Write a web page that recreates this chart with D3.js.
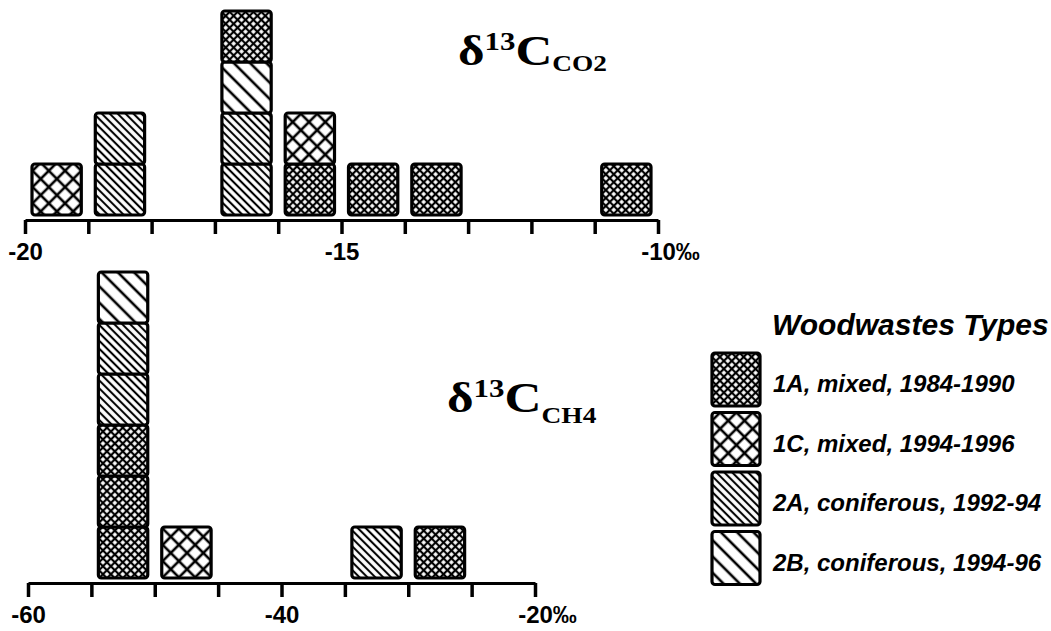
<!DOCTYPE html>
<html>
<head>
<meta charset="utf-8">
<script src="https://cdn.jsdelivr.net/npm/d3@7"></script>
<style>
  body { margin: 0; background: #fff; }
  svg { display: block; }
</style>
</head>
<body>
<div id="chart"></div>
<script>
  // woodwaste types (legend order)
  var typeCodes = ['1A', '1C', '2A', '2B'];
  var typeLabels = ['1A, mixed, 1984-1990', '1C, mixed, 1994-1996',
                    '2A, coniferous, 1992-94', '2B, coniferous, 1994-96'];

  // d13C CO2 samples: lower edge of the 1 permil bin, and type (stacked bottom to top)
  var co2Bins  = [-20, -19, -19, -17, -17, -17, -17, -16, -16, -15, -14, -11];
  var co2Types = ['1C', '2A', '2A', '2A', '2A', '2B', '1A', '1A', '1C', '1A', '1A', '1A'];
  var co2Ticks  = [-20, -19, -18, -17, -16, -15, -14, -13, -12, -11, -10];
  var co2Labels = [-20, -15, -10];

  // d13C CH4 samples: lower edge of the 5 permil bin
  var ch4Bins  = [-55, -55, -55, -55, -55, -55, -50, -35, -30];
  var ch4Types = ['1A', '1A', '1A', '2A', '2A', '2B', '1C', '2A', '1A'];
  var ch4Ticks  = [-60, -55, -50, -45, -40, -35, -30, -25, -20];
  var ch4Labels = [-60, -40, -20];

  var width = 1051, height = 631;
  var svg = d3.select('#chart').append('svg')
    .attr('width', width)
    .attr('height', height);

  var defs = svg.append('defs');

  function addPattern(id, size, stroke, cross) {
    var p = defs.append('pattern')
      .attr('id', id)
      .attr('patternUnits', 'userSpaceOnUse')
      .attr('width', size)
      .attr('height', size)
      .attr('patternTransform', 'rotate(45)');
    p.append('rect').attr('width', size).attr('height', size).attr('fill', '#fff');
    p.append('line')
      .attr('x1', 0).attr('x2', size).attr('y1', size / 2).attr('y2', size / 2)
      .attr('stroke', '#000').attr('stroke-width', stroke);
    if (cross) {
      p.append('line')
        .attr('y1', 0).attr('y2', size).attr('x1', size / 2).attr('x2', size / 2)
        .attr('stroke', '#000').attr('stroke-width', stroke);
    }
  }
  addPattern('p1A', 5.6, 2.2, true);
  addPattern('p1C', 11.5, 2.6, true);
  addPattern('p2A', 5.6, 2.1, false);
  addPattern('p2B', 11.5, 2.6, false);

  function fillFor(code) { return 'url(#p' + code + ')'; }

  function drawPanel(opts) {
    var x = d3.scaleLinear().domain(opts.domain).range(opts.range);
    var y = d3.scaleLinear().domain([0, 1]).range([opts.base, opts.base - 51]);

    // stack level of each sample within its bin
    var seen = {};
    var samples = opts.bins.map(function(b, i) {
      var level = seen[b] || 0;
      seen[b] = level + 1;
      return { bin: b, type: opts.types[i], level: level };
    });

    var g = svg.append('g');
    var inset = 7;
    g.selectAll('rect.block').data(samples).enter()
      .append('rect')
      .attr('class', 'block')
      .attr('x', function(d) { return x(d.bin) + inset; })
      .attr('width', function(d) { return x(d.bin + opts.step) - x(d.bin) - 2 * inset; })
      .attr('y', function(d) { return y(d.level + 1); })
      .attr('height', function(d) { return y(d.level) - y(d.level + 1); })
      .attr('rx', 3)
      .attr('fill', function(d) { return fillFor(d.type); })
      .attr('stroke', '#000')
      .attr('stroke-width', 3.2);

    var axis = d3.axisBottom(x)
      .tickValues(opts.ticks)
      .tickSize(14)
      .tickSizeOuter(0)
      .tickPadding(9)
      .tickFormat(function(d) { return opts.labels.indexOf(d) >= 0 ? String(d) : ''; });

    var ax = svg.append('g')
      .attr('transform', 'translate(0,' + opts.axisY + ')')
      .call(axis);
    ax.select('.domain').attr('stroke-width', 3);
    ax.selectAll('.tick line').attr('stroke-width', 3.5);
    ax.selectAll('.tick text')
      .attr('fill', '#000')
      .style('font-family', '"Liberation Sans", Arial, sans-serif')
      .style('font-weight', 'bold')
      .style('font-size', '24px');

    // last label carries the permil unit, number stays centred on the tick
    var last = ax.selectAll('.tick text').filter(function(d) { return d === opts.labels[opts.labels.length - 1]; });
    var w = last.node().getComputedTextLength();
    last.attr('text-anchor', 'start').attr('x', -w / 2);
    last.append('tspan').text('\u2030');

    // title
    var t = svg.append('text')
      .attr('transform', 'translate(' + opts.titleX + ',' + opts.titleY + ')')
      .style('font-family', '"Liberation Serif", "Times New Roman", serif')
      .style('font-weight', 'bold')
      .attr('fill', '#000');
    t.append('tspan').text('\u03b4').style('font-size', '43px');
    t.append('tspan').text('13').style('font-size', '26px').attr('dy', -15);
    t.append('tspan').text('C').style('font-size', '43px').attr('dy', 15);
    t.append('tspan').text(opts.sub).style('font-size', '23px').attr('dy', opts.subDy);
    var tw = t.node().getBBox().width;
    var sx = opts.titleW / tw;
    t.attr('transform', 'translate(' + opts.titleX + ',' + opts.titleY + ') scale(' + sx + ',1)');
  }

  drawPanel({
    domain: [-20, -10], range: [25, 658], step: 1,
    bins: co2Bins, types: co2Types, ticks: co2Ticks, labels: co2Labels,
    base: 215, axisY: 220,
    sub: 'CO2', subDy: 6, titleX: 458, titleY: 65, titleW: 149
  });

  drawPanel({
    domain: [-60, -20], range: [28, 535], step: 5,
    bins: ch4Bins, types: ch4Types, ticks: ch4Ticks, labels: ch4Labels,
    base: 578, axisY: 583,
    sub: 'CH4', subDy: 11, titleX: 447, titleY: 412, titleW: 150
  });

  // legend
  var legend = svg.append('g');
  legend.append('text')
    .attr('x', 772)
    .attr('y', 335)
    .text('Woodwastes Types')
    .style('font-family', '"Liberation Sans", Arial, sans-serif')
    .style('font-weight', 'bold')
    .style('font-style', 'italic')
    .style('font-size', '30px');

  var items = legend.selectAll('g.item').data(typeCodes).enter()
    .append('g')
    .attr('class', 'item')
    .attr('transform', function(d, i) { return 'translate(712,' + (353 + i * 59.5) + ')'; });
  items.append('rect')
    .attr('width', 48)
    .attr('height', 53)
    .attr('rx', 3)
    .attr('fill', function(d) { return fillFor(d); })
    .attr('stroke', '#000')
    .attr('stroke-width', 3.2);
  items.append('text')
    .attr('x', 61)
    .attr('y', 39)
    .text(function(d, i) { return typeLabels[i]; })
    .style('font-family', '"Liberation Sans", Arial, sans-serif')
    .style('font-weight', 'bold')
    .style('font-style', 'italic')
    .style('font-size', '24px');
</script>
</body>
</html>
